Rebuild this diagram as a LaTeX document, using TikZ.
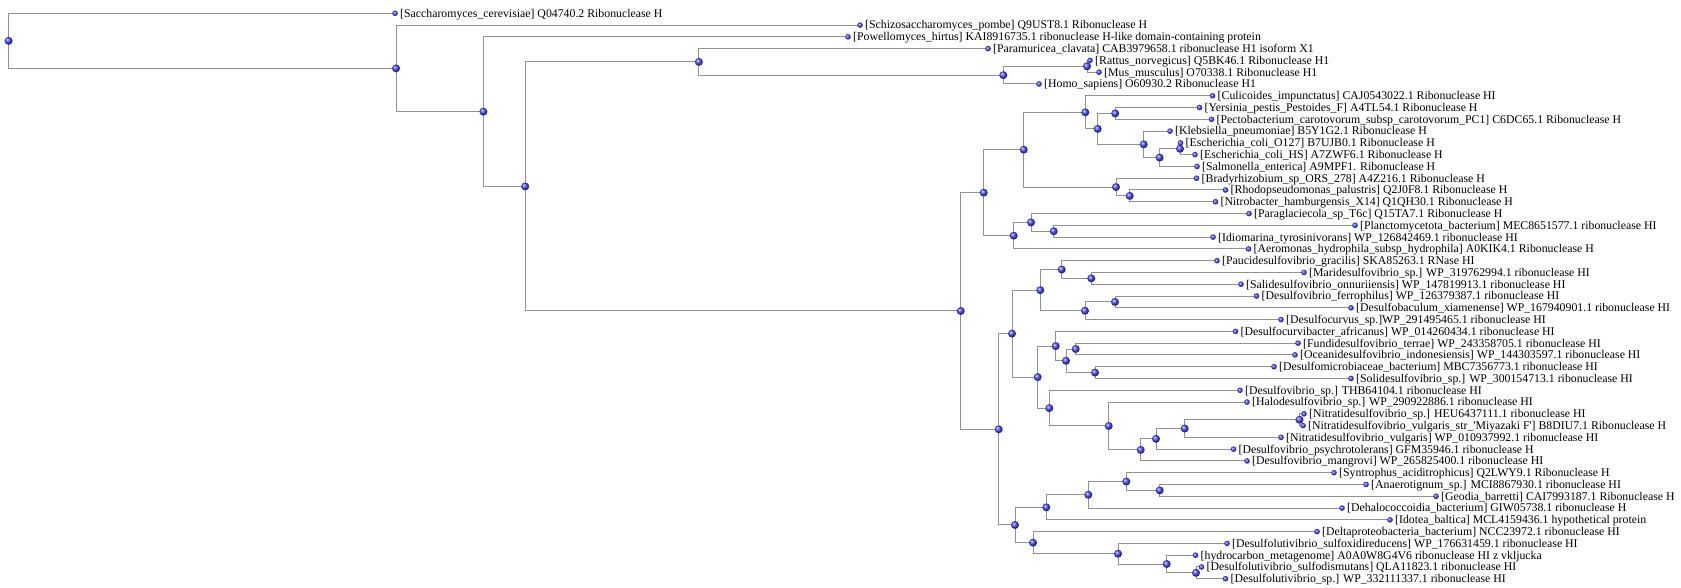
\documentclass[tikz,border=0pt]{standalone}
\usepackage{fontspec}
\setmainfont{Liberation Serif}
\usetikzlibrary{backgrounds}
\definecolor{dotblue}{RGB}{70,70,255}
\definecolor{branchgray}{RGB}{145,145,145}
\tikzset{
  ldot/.style={circle, inner sep=0pt, minimum size=5.6pt, shading=ball, ball color=dotblue},
  idot/.style={circle, inner sep=0pt, minimum size=8pt, shading=ball, ball color=dotblue},
  lab/.style={anchor=base west, inner sep=0pt, yshift=-3.9pt, font=\fontsize{11.8}{12}\selectfont},
  branch/.style={draw=branchgray, line width=1pt},
}
\newcommand\lf[4]{\node[ldot] (#1) at (#2,{13.3+(#3-1)*11.78}) {}; \node[lab] (#1t) at ([xshift=5pt]#1.center) {#4};}
\newcommand\inn[3]{\node[idot] (#1) at (#2,#3) {};}
\newcommand\ed[2]{\draw[branch] (#1.center) |- (#2.center);}
\begin{document}
\begin{tikzpicture}[x=1pt,y=-1pt]
\useasboundingbox (0,0) rectangle (1681,588);
% internal nodes
\inn{root}{8.6}{40.83}
\inn{A}{396}{68.365}
\inn{B}{483.4}{111.65}
\inn{C}{525.2}{186.44}
\inn{D}{698.9}{61.89}
\inn{RMH}{1003.3}{75.145}
\inn{RM}{1087}{66.31}
\inn{E}{960.7}{310.99}
\inn{F}{983.7}{192.67}
\inn{H}{1023.7}{149.69}
\inn{J}{1085.3}{112.325}
\inn{L}{1097.7}{128.89}
\inn{M}{1115.2}{113.43}
\inn{N}{1143.7}{144.35}
\inn{O}{1159.6}{157.605}
\inn{P}{1180}{148.77}
\inn{K}{1116}{187.055}
\inn{Q}{1129.7}{195.89}
\inn{I}{1013.7}{235.65}
\inn{R}{1031}{222.395}
\inn{S}{1053.7}{231.23}
\inn{G}{998.7}{429.305}
\inn{U}{1012}{333.615}
\inn{V}{1040.3}{290.13}
\inn{T}{1061.7}{269.515}
\inn{Y}{1091.3}{278.35}
\inn{X}{1085}{310.745}
\inn{Z}{1115}{301.91}
\inn{W}{1037.7}{377.1}
\inn{AA}{1055.7}{346.085}
\inn{AC}{1066}{360.81}
\inn{AD}{1075.7}{349.03}
\inn{AE}{1095}{372.59}
\inn{AB}{1049.3}{408.115}
\inn{AF}{1108.7}{425.97}
\inn{AG}{1140.7}{449.895}
\inn{AH}{1156}{438.85}
\inn{AI}{1184.7}{428.545}
\inn{AJ}{1299.5}{419.71}
\inn{AK}{1015}{524.995}
\inn{AL}{1046.3}{507.325}
\inn{AN}{1088.3}{494.81}
\inn{AO}{1126.3}{481.555}
\inn{AP}{1159.7}{490.39}
\inn{AM}{1033}{542.665}
\inn{AQ}{1118}{553.71}
\inn{AR}{1166.7}{564.015}
\inn{AS}{1196}{572.85}
% leaves
\lf{l1}{395}{1}{[Saccharomyces\_cerevisiae] Q04740.2 Ribonuclease H}
\lf{l2}{860}{2}{[Schizosaccharomyces\_pombe] Q9UST8.1 Ribonuclease H}
\lf{l3}{848}{3}{[Powellomyces\_hirtus] KAI8916735.1 ribonuclease H-like domain-containing protein}
\lf{l4}{988}{4}{[Paramuricea\_clavata] CAB3979658.1 ribonuclease H1 isoform X1}
\lf{l5}{1090}{5}{[Rattus\_norvegicus] Q5BK46.1 Ribonuclease H1}
\lf{l6}{1099}{6}{[Mus\_musculus] O70338.1 Ribonuclease H1}
\lf{l7}{1039}{7}{[Homo\_sapiens] O60930.2 Ribonuclease H1}
\lf{l8}{1212.5}{8}{[Culicoides\_impunctatus] CAJ0543022.1 Ribonuclease HI}
\lf{l9}{1199.5}{9}{[Yersinia\_pestis\_Pestoides\_F] A4TL54.1 Ribonuclease H}
\lf{l10}{1211.5}{10}{[Pectobacterium\_carotovorum\_subsp\_carotovorum\_PC1] C6DC65.1 Ribonuclease H}
\lf{l11}{1170}{11}{[Klebsiella\_pneumoniae] B5Y1G2.1 Ribonuclease H}
\lf{l12}{1180.5}{12}{[Escherichia\_coli\_O127] B7UJB0.1 Ribonuclease H}
\lf{l13}{1195}{13}{[Escherichia\_coli\_HS] A7ZWF6.1 Ribonuclease H}
\lf{l14}{1197}{14}{[Salmonella\_enterica] A9MPF1. Ribonuclease H}
\lf{l15}{1196.5}{15}{[Bradyrhizobium\_sp\_ORS\_278] A4Z216.1 Ribonuclease H}
\lf{l16}{1225.5}{16}{[Rhodopseudomonas\_palustris] Q2J0F8.1 Ribonuclease H}
\lf{l17}{1215.5}{17}{[Nitrobacter\_hamburgensis\_X14] Q1QH30.1 Ribonuclease H}
\lf{l18}{1249}{18}{[Paraglaciecola\_sp\_T6c] Q15TA7.1 Ribonuclease H}
\lf{l19}{1355}{19}{[Planctomycetota\_bacterium] MEC8651577.1 ribonuclease HI}
\lf{l20}{1213}{20}{[Idiomarina\_tyrosinivorans] WP\_126842469.1 ribonuclease HI}
\lf{l21}{1248.5}{21}{[Aeromonas\_hydrophila\_subsp\_hydrophila] A0KIK4.1 Ribonuclease H}
\lf{l22}{1217}{22}{[Paucidesulfovibrio\_gracilis] SKA85263.1 RNase HI}
\lf{l23}{1304}{23}{[Maridesulfovibrio\_sp.] WP\_319762994.1 ribonuclease HI}
\lf{l24}{1241}{24}{[Salidesulfovibrio\_onnuriiensis] WP\_147819913.1 ribonuclease HI}
\lf{l25}{1256.5}{25}{[Desulfovibrio\_ferrophilus] WP\_126379387.1 ribonuclease HI}
\lf{l26}{1351}{26}{[Desulfobaculum\_xiamenense] WP\_167940901.1 ribonuclease HI}
\lf{l27}{1281}{27}{[Desulfocurvus\_sp.]WP\_291495465.1 ribonuclease HI}
\lf{l28}{1235.5}{28}{[Desulfocurvibacter\_africanus] WP\_014260434.1 ribonuclease HI}
\lf{l29}{1298}{29}{[Fundidesulfovibrio\_terrae] WP\_243358705.1 ribonuclease HI}
\lf{l30}{1295}{30}{[Oceanidesulfovibrio\_indonesiensis] WP\_144303597.1 ribonuclease HI}
\lf{l31}{1274}{31}{[Desulfomicrobiaceae\_bacterium] MBC7356773.1 ribonuclease HI}
\lf{l32}{1351}{32}{[Solidesulfovibrio\_sp.] WP\_300154713.1 ribonuclease HI}
\lf{l33}{1240}{33}{[Desulfovibrio\_sp.] THB64104.1 ribonuclease HI}
\lf{l34}{1247}{34}{[Halodesulfovibrio\_sp.] WP\_290922886.1 ribonuclease HI}
\lf{l35}{1304}{35}{[Nitratidesulfovibrio\_sp.] HEU6437111.1 ribonuclease HI}
\lf{l36}{1303}{36}{[Nitratidesulfovibrio\_vulgaris\_str\_\textquotesingle Miyazaki F\textquotesingle] B8DIU7.1 Ribonuclease H}
\lf{l37}{1281}{37}{[Nitratidesulfovibrio\_vulgaris] WP\_010937992.1 ribonuclease HI}
\lf{l38}{1233.5}{38}{[Desulfovibrio\_psychrotolerans] GFM35946.1 ribonuclease H}
\lf{l39}{1247}{39}{[Desulfovibrio\_mangrovi] WP\_265825400.1 ribonuclease HI}
\lf{l40}{1334}{40}{[Syntrophus\_aciditrophicus] Q2LWY9.1 Ribonuclease H}
\lf{l41}{1366}{41}{[Anaerotignum\_sp.] MCI8867930.1 ribonuclease HI}
\lf{l42}{1436}{42}{[Geodia\_barretti] CAI7993187.1 Ribonuclease H}
\lf{l43}{1342}{43}{[Dehalococcoidia\_bacterium] GIW05738.1 ribonuclease H}
\lf{l44}{1390}{44}{[Idotea\_baltica] MCL4159436.1 hypothetical protein}
\lf{l45}{1317}{45}{[Deltaproteobacteria\_bacterium] NCC23972.1 ribonuclease HI}
\lf{l46}{1227}{46}{[Desulfolutivibrio\_sulfoxidireducens] WP\_176631459.1 ribonuclease HI}
\lf{l47}{1195.5}{47}{[hydrocarbon\_metagenome] A0A0W8G4V6 ribonuclease HI z vkljucka}
\lf{l48}{1201.5}{48}{[Desulfolutivibrio\_sulfodismutans] QLA11823.1 ribonuclease HI}
\lf{l49}{1225.5}{49}{[Desulfolutivibrio\_sp.] WP\_332111337.1 ribonuclease HI}
% branches
\begin{pgfonlayer}{background}
\ed{root}{l1} \ed{root}{A}
\ed{A}{l2} \ed{A}{B}
\ed{B}{l3} \ed{B}{C}
\ed{C}{D} \ed{C}{E}
\ed{D}{l4} \ed{D}{RMH}
\ed{RMH}{RM} \ed{RMH}{l7}
\ed{RM}{l5} \ed{RM}{l6}
\ed{E}{F} \ed{E}{G}
\ed{F}{H} \ed{F}{I}
\ed{H}{J} \ed{H}{K}
\ed{J}{l8} \ed{J}{L}
\ed{L}{M} \ed{L}{N}
\ed{M}{l9} \ed{M}{l10}
\ed{N}{l11} \ed{N}{O}
\ed{O}{P} \ed{O}{l14}
\ed{P}{l12} \ed{P}{l13}
\ed{K}{l15} \ed{K}{Q}
\ed{Q}{l16} \ed{Q}{l17}
\ed{I}{R} \ed{I}{l21}
\ed{R}{l18} \ed{R}{S}
\ed{S}{l19} \ed{S}{l20}
\ed{G}{U} \ed{G}{AK}
\ed{U}{V} \ed{U}{W}
\ed{V}{T} \ed{V}{X}
\ed{T}{l22} \ed{T}{Y}
\ed{Y}{l23} \ed{Y}{l24}
\ed{X}{Z} \ed{X}{l27}
\ed{Z}{l25} \ed{Z}{l26}
\ed{W}{AA} \ed{W}{AB}
\ed{AA}{l28} \ed{AA}{AC}
\ed{AC}{AD} \ed{AC}{AE}
\ed{AD}{l29} \ed{AD}{l30}
\ed{AE}{l31} \ed{AE}{l32}
\ed{AB}{l33} \ed{AB}{AF}
\ed{AF}{l34} \ed{AF}{AG}
\ed{AG}{AH} \ed{AG}{l39}
\ed{AH}{AI} \ed{AH}{l38}
\ed{AI}{AJ} \ed{AI}{l37}
\ed{AJ}{l35} \ed{AJ}{l36}
\ed{AK}{AL} \ed{AK}{AM}
\ed{AL}{AN} \ed{AL}{l44}
\ed{AN}{AO} \ed{AN}{l43}
\ed{AO}{l40} \ed{AO}{AP}
\ed{AP}{l41} \ed{AP}{l42}
\ed{AM}{l45} \ed{AM}{AQ}
\ed{AQ}{l46} \ed{AQ}{AR}
\ed{AR}{l47} \ed{AR}{AS}
\ed{AS}{l48} \ed{AS}{l49}
\end{pgfonlayer}
\end{tikzpicture}
\end{document}
